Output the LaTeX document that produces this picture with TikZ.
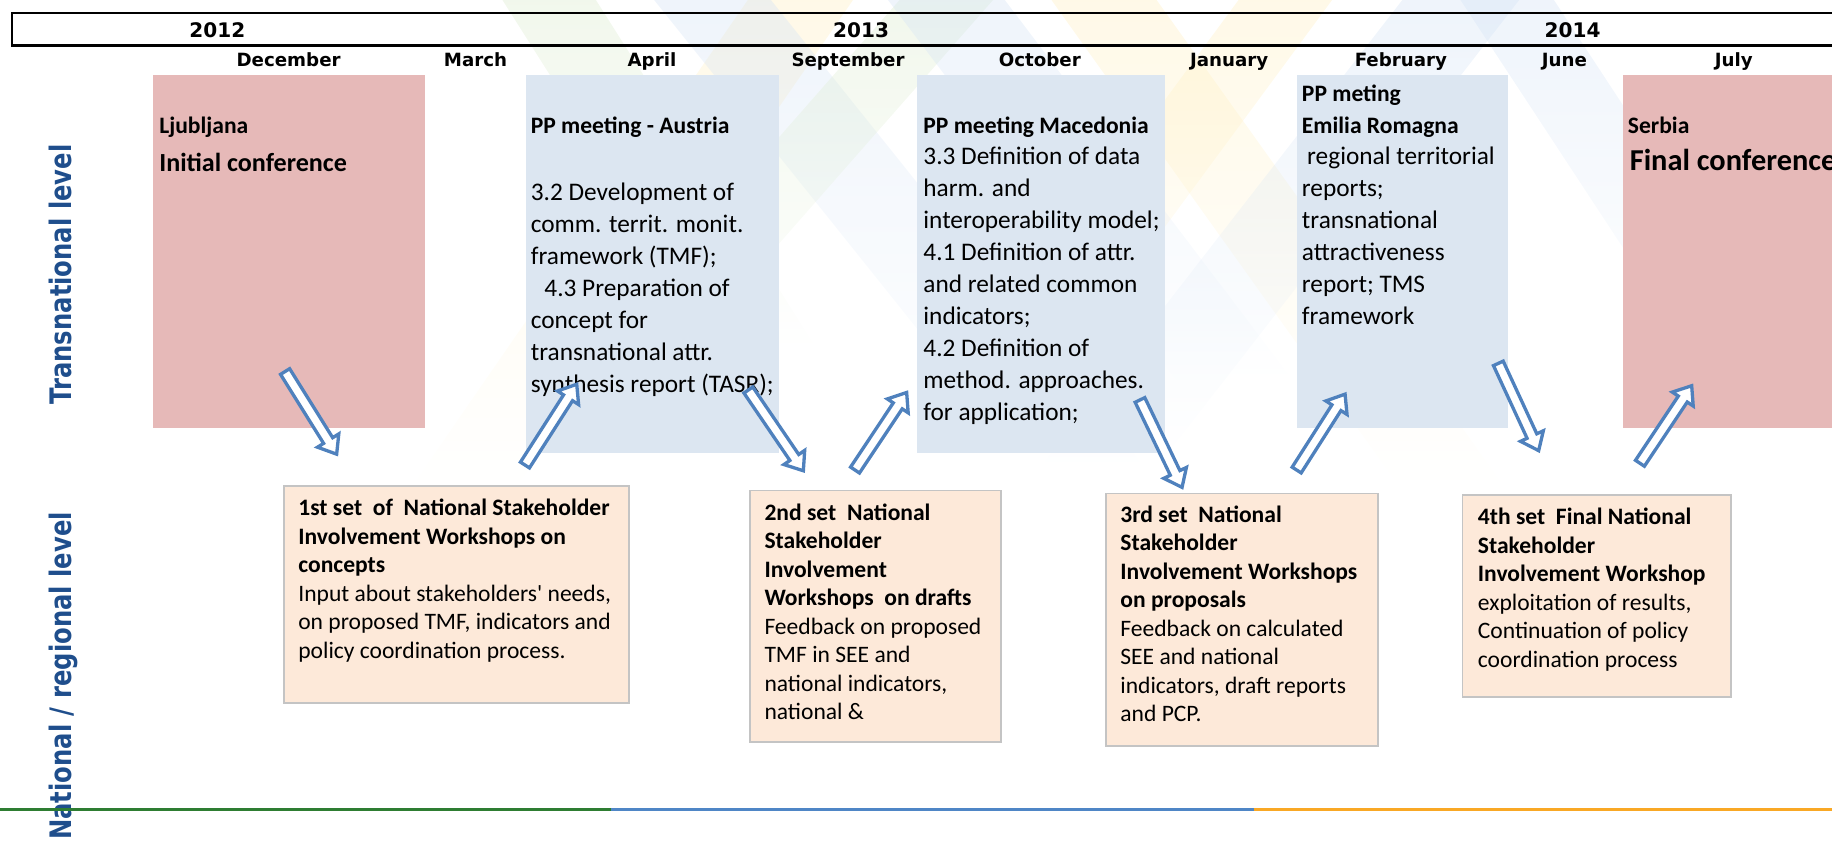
\documentclass[tikz,border=0pt]{standalone}
\usepackage{fontspec}
\setmainfont{Carlito}
\newfontfamily\dvs{DejaVu Sans}
\newfontfamily\dvsn{DejaVu Sans}[FakeStretch=0.82]
\usetikzlibrary{shapes.arrows,calc,fadings}
\definecolor{pinkbox}{HTML}{E6B9B8}
\definecolor{bluebox}{HTML}{DCE6F1}
\definecolor{peach}{HTML}{FDE9D9}
\definecolor{peachline}{HTML}{C4C4C4}
\definecolor{arrowblue}{HTML}{4F81BD}
\definecolor{lvlblue}{HTML}{1F4E8C}
\definecolor{lgreen}{HTML}{2E7D32}
\definecolor{lblue}{HTML}{4F86C6}
\definecolor{lorange}{HTML}{F9A825}
\definecolor{rayY}{HTML}{FFF0C4}
\definecolor{rayB}{HTML}{D6E4F5}
\definecolor{rayG}{HTML}{DDECD0}
\tikzset{
  upbox/.style={anchor=north west, inner sep=0pt, outer sep=0pt, draw=none},
  lowbox/.style={anchor=north west, inner sep=0pt, fill=peach, draw=peachline, line width=0.9pt},
  head/.style={anchor=base west, inner sep=0pt, font=\bfseries\fontsize{12.1}{14.5}\selectfont},
  bodyup/.style={anchor=north west, inner sep=0pt, align=left, font=\fontsize{13}{16.44}\selectfont},
  bodylow/.style={anchor=north west, inner sep=0pt, align=left, font=\fontsize{12.1}{14.64}\selectfont},
  month/.style={anchor=base, inner sep=0pt, font=\dvs\bfseries\fontsize{9.36}{11}\selectfont},
  yearlbl/.style={anchor=base, inner sep=0pt, font=\dvs\bfseries\fontsize{10.3}{12}\selectfont},
  level/.style={inner sep=0pt, rotate=90, text=lvlblue, font=\dvsn\bfseries\fontsize{15.2}{17}\selectfont},
  blockarrow/.style={single arrow, draw=arrowblue, fill=white, line width=1.7pt, inner sep=1.9pt,
    outer sep=0pt, single arrow head extend=3.7pt, single arrow tip angle=76, anchor=tail},
  band/.style={fill opacity=0.4, path fading=south}
}
\newcommand\blockarr[3]{%
  \path let \p1=(#2), \p2=(#3), \n1={atan2(\y2-\y1,\x2-\x1)}, \n2={veclen(\x2-\x1,\y2-\y1)-1.5pt} in
    node[blockarrow, rotate=\n1, minimum height=\n2] (#1) at (#2) {};}
\begin{document}
\begin{tikzpicture}[x=0.6pt,y=-0.6pt]
\useasboundingbox (0,0) rectangle (1568,721);
\clip (0,0) rectangle (1568,721);
% faint criss-cross background bands
\fill[rayY,band] (640,0) -- (730,0) -- (440,420) -- (350,420) -- cycle;
\fill[rayB,band] (560,0) -- (660,0) -- (980,400) -- (880,400) -- cycle;
\fill[rayG,band] (770,0) -- (850,0) -- (560,330) -- (480,330) -- cycle;
\fill[rayY,band] (900,0) -- (990,0) -- (1290,420) -- (1200,420) -- cycle;
\fill[rayB,band] (1200,0) -- (1300,0) -- (990,400) -- (890,400) -- cycle;
\fill[rayY,band] (1060,0) -- (1140,0) -- (860,380) -- (780,380) -- cycle;
\fill[rayB,band] (1250,0) -- (1330,0) -- (1540,320) -- (1460,320) -- cycle;
\fill[rayG,band] (430,0) -- (510,0) -- (700,300) -- (620,300) -- cycle;
\fill[rayB,band] (760,0) -- (860,0) -- (1110,330) -- (1010,330) -- cycle;
% header
\node[draw, line width=1.3pt, anchor=north west, inner sep=0pt, minimum width=954.6pt, minimum height=16.8pt] (header) at (9,10) {};
\node[yearlbl] (y2012) at (186,31.9) {2012};
\node[yearlbl] (y2013) at (737,31.9) {2013};
\node[yearlbl] (y2014) at (1346,31.9) {2014};
\node[month] (mdec) at (247,56.5) {December};
\node[month] (mmar) at (407,56.5) {March};
\node[month] (mapr) at (558,56.5) {April};
\node[month] (msep) at (725.8,56.5) {September};
\node[month] (moct) at (890,56.5) {October};
\node[month] (mjan) at (1052,56.5) {January};
\node[month] (mfeb) at (1199,56.5) {February};
\node[month] (mjun) at (1339,56.5) {June};
\node[month] (mjul) at (1484,56.5) {July};
% transnational boxes
\node[upbox, fill=pinkbox, minimum width=139.8pt, minimum height=181.2pt] (ljub) at (131,64) {};
\node[upbox, fill=bluebox, minimum width=130.2pt, minimum height=194.4pt] (aus) at (450,64) {};
\node[upbox, fill=bluebox, minimum width=127.2pt, minimum height=194.4pt] (mac) at (785,64) {};
\node[upbox, fill=bluebox, minimum width=108.6pt, minimum height=181.2pt] (emi) at (1110,64) {};
\node[upbox, fill=pinkbox, minimum width=127.2pt, minimum height=181.2pt] (ser) at (1389,64) {};
\node[head] (ljubT) at (136,114) {Ljubljana};
\node[head, font=\bfseries\fontsize{13.4}{16}\selectfont] (initT) at (136,146.7) {Initial conference};
\node[head] (ausH) at (454,114) {PP meeting - Austria};
\node[bodyup] (ausB) at (454,152.3) {\strut 3.2 Development of\\ comm. territ. monit.\\ framework (TMF);\\ \hspace*{7pt}4.3 Preparation of\\ concept for\\ transnational attr.\\ synthesis report (TASR);};
\node[head] (macH) at (790,114) {PP meeting Macedonia};
\node[bodyup] (macB) at (790,121.3) {\strut 3.3 Definition of data\\ harm. and\\ interoperability model;\\ 4.1 Definition of attr.\\ and related common\\ indicators;\\ 4.2 Definition of\\ method. approaches.\\ for application;};
\node[head] (emiH1) at (1114,86.5) {PP meting};
\node[head] (emiH2) at (1114,114) {Emilia Romagna};
\node[bodyup] (emiB) at (1114,121.3) {\strut\hspace*{2.7pt}regional territorial\\ reports;\\ transnational\\ attractiveness\\ report; TMS\\ framework};
\node[head] (serH) at (1393,114) {Serbia};
\node[head, font=\bfseries\fontsize{15.6}{18}\selectfont] (finT) at (1394.6,145.8) {Final conference};
% national boxes
\node[lowbox, minimum width=177.3pt, minimum height=111.6pt] (ws1) at (242,415) {};
\node[bodylow] (ws1T) at (255,423.9) {\strut\textbf{1st set\ \ of\ \ National Stakeholder}\\ \textbf{Involvement Workshops on}\\ \textbf{concepts}\\ Input about stakeholders\textquotesingle\ needs,\\ on proposed TMF, indicators and\\ policy coordination process.};
\node[lowbox, minimum width=129pt, minimum height=129pt] (ws2) at (641,419) {};
\node[bodylow] (ws2T) at (654,427.7) {\strut\textbf{2nd set\ \ National}\\ \textbf{Stakeholder}\\ \textbf{Involvement}\\ \textbf{Workshops\ \ on drafts}\\ Feedback on proposed\\ TMF in SEE and\\ national indicators,\\ national \&};
\node[lowbox, minimum width=140pt, minimum height=129.8pt] (ws3) at (945.6,421.7) {};
\node[bodylow] (ws3T) at (958.6,429.7) {\strut\textbf{3rd set\ \ National}\\ \textbf{Stakeholder}\\ \textbf{Involvement Workshops}\\ \textbf{on proposals}\\ Feedback on calculated\\ SEE and national\\ indicators, draft reports\\ and PCP.};
\node[lowbox, minimum width=138pt, minimum height=103.8pt] (ws4) at (1251,423) {};
\node[bodylow] (ws4T) at (1264.6,431.7) {\strut\textbf{4th set\ \ Final National}\\ \textbf{Stakeholder}\\ \textbf{Involvement Workshop}\\ exploitation of results,\\ Continuation of policy\\ coordination process};
% arrows
\coordinate (a1s) at (244,318);    \coordinate (a1e) at (289.5,390.9);
\coordinate (a2s) at (449.3,398);  \coordinate (a2e) at (495,326.7);
\coordinate (a3s) at (640.5,333.8);\coordinate (a3e) at (689,405);
\coordinate (a4s) at (731.8,402.3);\coordinate (a4e) at (777.4,333.8);
\coordinate (a5s) at (975.7,342.3);\coordinate (a5e) at (1012.8,419.4);
\coordinate (a6s) at (1109.8,402.3);\coordinate (a6e) at (1152.6,335.2);
\coordinate (a7s) at (1282.4,311); \coordinate (a7e) at (1318,388);
\coordinate (a8s) at (1403.6,396.5);\coordinate (a8e) at (1449.3,328);
\blockarr{arr1}{a1s}{a1e}
\blockarr{arr2}{a2s}{a2e}
\blockarr{arr3}{a3s}{a3e}
\blockarr{arr4}{a4s}{a4e}
\blockarr{arr5}{a5s}{a5e}
\blockarr{arr6}{a6s}{a6e}
\blockarr{arr7}{a7s}{a7e}
\blockarr{arr8}{a8s}{a8e}
% level labels
\node[level, anchor=base] (trans) at (61.3,235) {Transnational level};
\node[level, anchor=base east] (natl) at (61.3,438) {National / regional level};
% bottom rule
\coordinate (l0) at (0,693); \coordinate (l1) at (523,693);
\coordinate (l2) at (1073,693); \coordinate (l3) at (1568,693);
\draw[lgreen, line width=1.4pt] (l0) -- (l1);
\draw[lblue, line width=1.4pt] (l1) -- (l2);
\draw[lorange, line width=1.4pt] (l2) -- (l3);
\end{tikzpicture}
\end{document}
